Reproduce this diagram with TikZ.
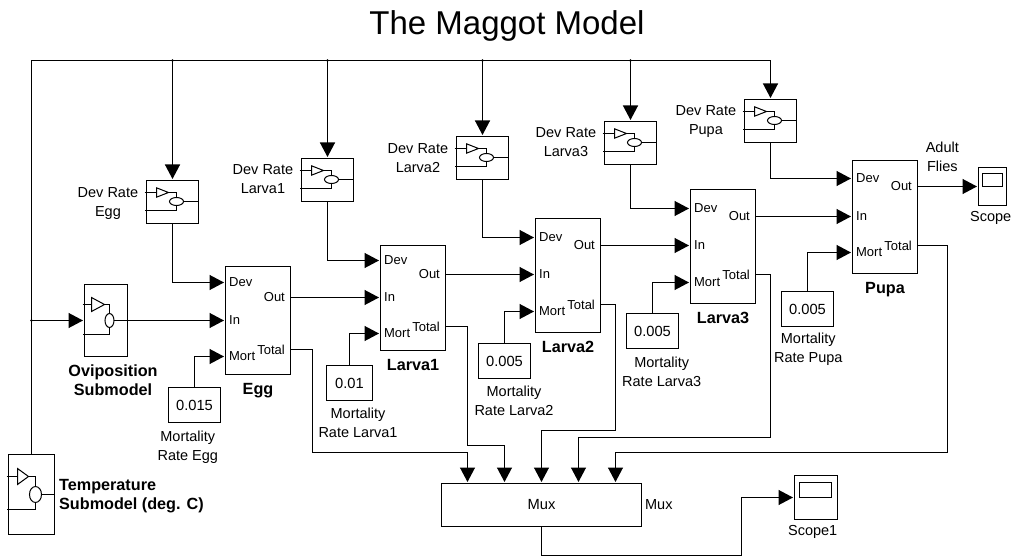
\documentclass[tikz,border=0pt]{standalone}
\usepackage{fontspec}
\setmainfont{Liberation Sans}
\usetikzlibrary{positioning,arrows.meta}

\begin{document}
\begin{tikzpicture}[x=1pt,y=-1pt,line width=1.3pt,
 wire/.style={line width=1.3pt},
 flow/.style={wire,-{Triangle[length=14.5pt,width=15pt]},shorten >=1.5pt},
 icon/.style={line width=1pt},
 blockbox/.style={draw,rectangle,inner sep=0pt,outer sep=0pt},
 ratebox/.style={blockbox,minimum width=52pt,minimum height=43pt},
 constbox/.style={blockbox,minimum width=52pt,minimum height=35pt,font=\fontsize{14.7}{19}\selectfont},
 lab/.style={font=\fontsize{14.5}{19}\selectfont,align=center,inner sep=0pt},
 boldlab/.style={font=\fontsize{16.2}{18.8}\selectfont\bfseries,align=center,inner sep=0pt},
 stagename/.style={boldlab,text height=12pt,text depth=3.5pt},
 portin/.style={font=\fontsize{13}{15}\selectfont,anchor=west,inner xsep=3pt,inner ysep=0pt},
 portout/.style={font=\fontsize{13}{15}\selectfont,anchor=east,inner xsep=5pt,inner ysep=0pt}]
\useasboundingbox (0,0) rectangle (1013,556);
\node[font=\fontsize{33}{36}\selectfont,inner sep=0pt] (title) at (507,25.5) {The Maggot Model};
% Rate blocks along the top line.
\foreach \nm/\bx/\by/\ttl/\dy in {rateEgg/146.5/180.5/Egg/2,rateLarvaA/301.5/158.5/Larva1/-0.5,rateLarvaB/456.5/136.5/Larva2/0,
                              rateLarvaC/604.5/121.5/Larva3/-1,ratePupa/744.5/99.5/Pupa/1}{
  \node[ratebox,anchor=north west] (\nm) at (\bx,\by) {};
  \node[lab,left=7.7pt of \nm,yshift=-\dy pt] (\nm Lab) {Dev Rate\\\ttl};
  \begin{scope}[shift={(\bx,\by)}]
    \draw[icon] (-2,12) -- (10,12) (22,12) -| (30,17);
    \draw[icon] (10,7.3) -- (22,12) -- (10,16.7) -- cycle;
    \draw[icon] (30,21) ellipse (7pt and 4pt);
    \draw[icon] (37,21) -- (52,21);
    \draw[icon] (30,25) |- (-2,30);
  \end{scope}
}
% Stages, with their ports.
\foreach \nm/\ttl/\lx/\ty/\hgt/\devy/\iny/\morty/\outy/\toty in {
   egg/Egg/225.5/266.5/108/282.5/320.5/356.5/297.5/349.5,
   larvaA/Larva1/380.5/245.5/105/260.5/297.5/333.5/274.5/326.5,
   larvaB/Larva2/535.5/218.5/114/237.5/274.5/311.5/245.5/304.5,
   larvaC/Larva3/690.5/189.5/114/208.5/245.5/282.5/216.5/274.5,
   pupa/Pupa/852.5/160.5/113/178.5/216.5/252.5/186.5/245.5}{
  \node[blockbox,anchor=north west,minimum width=65pt,minimum height=\hgt pt] (\nm) at (\lx,\ty) {};
  \node[stagename,below=7pt of \nm] (\nm Name) {\ttl};
  \node[portin] (\nm Dev) at (\lx,\devy) {Dev};
  \node[portin] (\nm In) at (\lx,\iny) {In};
  \node[portin] (\nm Mort) at (\lx,\morty) {Mort};
  \node[portout] (\nm Out) at (\lx+65,\outy) {Out};
  \node[portout] (\nm Tot) at (\lx+65,\toty) {Total};
}
% Mortality constants.
\foreach \nm/\val/\bx/\by/\wdt/\tx/\ty/\ttl in {
   constEgg/0.015/168.5/387.5/52/187.8/447/Egg,
   constLarvaA/0.01/326.5/365.5/46/358/423/Larva1,
   constLarvaB/0.005/478.5/343.5/52/514/401/Larva2,
   constLarvaC/0.005/626.5/313.5/52/661.7/371.5/Larva3,
   constPupa/0.005/781.5/291.5/52/808.3/349.5/Pupa}{
  \node[constbox,anchor=north west,minimum width=\wdt pt] (\nm) at (\bx,\by) {\val};
  \node[lab] (\nm Lab) at (\tx,\ty) {Mortality\\Rate \ttl};
}
% Submodels.
\node[blockbox,anchor=north west,minimum width=43pt,minimum height=72pt] (ovip) at (84.5,284.5) {};
\draw[icon] (82.5,304.5) -- (91.5,304.5) (104.5,304.5) -| (109.5,313.5);
\draw[icon] (91.5,297.5) -- (104.5,304.5) -- (91.5,311.5) -- cycle;
\draw[icon] (109.5,320.5) ellipse (4.5pt and 7pt);
\draw[icon] (114,320.5) -- (127.5,320.5);
\draw[icon] (109.5,327.5) |- (82.5,334.5);
\node[boldlab] (ovipLab) at (113,380) {Oviposition\\Submodel};
\node[blockbox,anchor=north west,minimum width=46pt,minimum height=80pt] (tempSub) at (8.5,454.5) {};
\draw[icon] (6.5,476.5) -- (17.5,476.5) (28.5,476.5) -| (35.5,486.5);
\draw[icon] (17.5,468.5) -- (28.5,476.5) -- (17.5,484.5) -- cycle;
\draw[icon] (35.5,494.5) ellipse (6pt and 8pt);
\draw[icon] (41.5,494.5) -- (54.5,494.5);
\draw[icon] (35.5,502.5) |- (6.5,509.5);
\node[boldlab,align=left,right=4pt of tempSub,yshift=-2pt] (tempLab) {Temperature\\Submodel (deg. C)};
% Mux and scopes.
\node[blockbox,anchor=north west,minimum width=200pt,minimum height=43pt,font=\fontsize{14.7}{19}\selectfont] (mux) at (441.5,483.5) {Mux};
\node[lab,right=3pt of mux] (muxLab) {Mux};
\node[blockbox,anchor=north west,minimum width=28pt,minimum height=38pt] (scope) at (978.5,167.5) {};
\node[blockbox,minimum width=20pt,minimum height=13pt] (scopeScreen) at (992.5,180) {};
\node[lab] (scopeLab) at (990.7,218.3) {Scope};
\node[blockbox,anchor=north west,minimum width=43pt,minimum height=44pt] (scopeOne) at (794.5,475.5) {};
\node[blockbox,minimum width=32pt,minimum height=15pt] (scopeOneScreen) at (815.5,490) {};
\node[lab] (scopeOneLab) at (812.7,531.7) {Scope1};
\node[lab] (adultLab) at (942.3,156.7) {Adult\\Flies};
% Temperature line over the top.
\coordinate (busEnd) at (770.5,60.5);
\draw[wire] (tempSub.north) |- (busEnd);
\draw[flow] (busEnd) -- (ratePupa.north);
\foreach \nm in {rateEgg,rateLarvaA,rateLarvaB,rateLarvaC}{
  \draw[flow] (\nm.north |- busEnd) -- (\nm.north);
  \fill (\nm.north |- busEnd) circle (1.4pt);
}
\draw[flow] (tempSub.north |- ovip.west) -- (ovip.west);
\fill (tempSub.north |- ovip.west) circle (1.4pt);
\draw[flow] (ovip.east) -- (eggIn.west);
% Stage to stage.
\foreach \nm/\rate/\cst in {egg/rateEgg/constEgg,larvaA/rateLarvaA/constLarvaA,larvaB/rateLarvaB/constLarvaB,
                            larvaC/rateLarvaC/constLarvaC,pupa/ratePupa/constPupa}{
  \draw[flow] (\rate.south) |- (\nm Dev.west);
  \draw[flow] (\cst.north) |- (\nm Mort.west);
}
\draw[flow] (eggOut.east) -- (larvaAIn.west);
\draw[flow] (larvaAOut.east) -- (larvaBIn.west);
\draw[flow] (larvaBOut.east) -- (larvaCIn.west);
\draw[flow] (larvaCOut.east) -- (pupaIn.west);
\draw[flow] (pupaOut.east) -- (scope.west);
% Totals into the mux.
\coordinate (muxA) at (467.5,483.5);
\coordinate (muxB) at (504.5,483.5);
\coordinate (muxC) at (541.5,483.5);
\coordinate (muxD) at (578.5,483.5);
\coordinate (muxE) at (615.5,483.5);
\draw[flow] (eggTot.east) -| (312.5,452.5) -| (muxA);
\draw[flow] (larvaATot.east) -| (467.5,445.5) -| (muxB);
\draw[flow] (larvaBTot.east) -| (615.5,430.5) -| (muxC);
\draw[flow] (larvaCTot.east) -| (770.5,437.5) -| (muxD);
\draw[flow] (pupaTot.east) -| (947.5,452.5) -| (muxE);
\coordinate (scopeTurn) at (741.5,555.5);
\draw[flow] (mux.south) |- (scopeTurn) |- (scopeOne.west);
\end{tikzpicture}
\end{document}
